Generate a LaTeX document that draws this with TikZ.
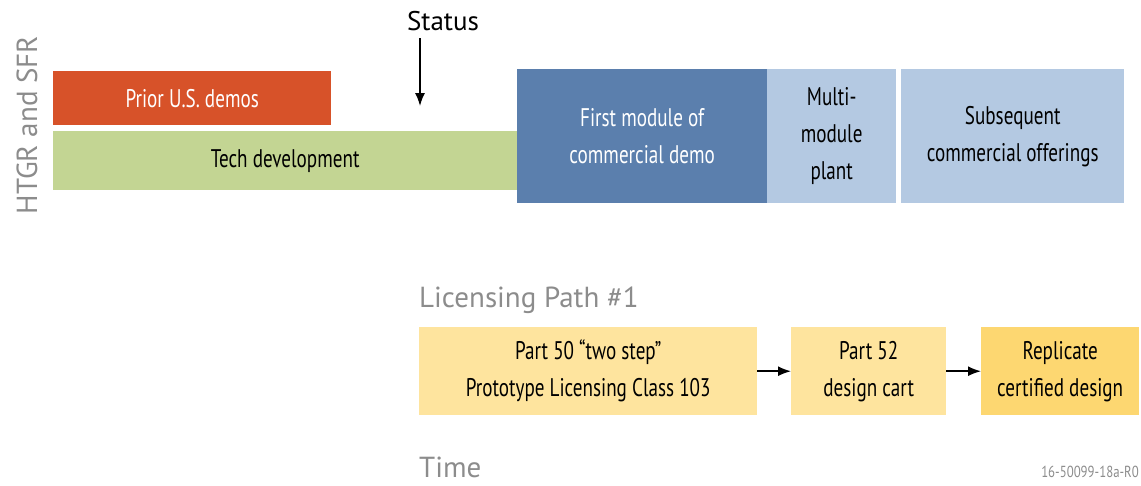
\documentclass[tikz,border=0pt]{standalone}
\usepackage{fontspec}
\setmainfont{PT Sans}[FakeStretch=0.75]
\newfontfamily\widefont{PT Sans}
\newfontfamily\codefont{PT Sans}[FakeStretch=0.8]
\usetikzlibrary{arrows.meta}
\definecolor{demored}{HTML}{D75229}
\definecolor{techgreen}{HTML}{C3D593}
\definecolor{darkblue}{HTML}{5B7FAD}
\definecolor{lightblue}{HTML}{B4C9E2}
\definecolor{paleyellow}{HTML}{FEE49E}
\definecolor{deepyellow}{HTML}{FDD771}
\definecolor{labelgray}{HTML}{8C8C8C}
\tikzset{
  bar/.style={anchor=north west, inner sep=0pt, align=center,
    font=\fontsize{25.5}{37}\selectfont},
  heading/.style={text=labelgray, inner sep=0pt, font=\widefont\fontsize{29}{32}\selectfont},
  flow/.style={-{Latex[length=13pt,width=10pt]}, line width=1.5pt},
}
\begin{document}
\begin{tikzpicture}[x=1pt,y=-1pt]
\useasboundingbox (0,0) rectangle (1141,485);

% axis label
\node[heading, rotate=90] (axis) at (27,125) {HTGR and SFR};

% technology timeline
\node[bar, fill=demored, text=white, minimum width=278, minimum height=54] (prior) at (53,71) {Prior U.S. demos};
\node[bar, fill=techgreen, minimum width=464, minimum height=59] (tech) at (53,131) {Tech development};
\node[bar, fill=darkblue, text=white, minimum width=250, minimum height=134] (first) at (517,69) {First module of\\commercial demo};
\node[bar, fill=lightblue, minimum width=129, minimum height=134] (multi) at (767,69) {Multi-\\module\\plant};
\node[bar, fill=lightblue, minimum width=223, minimum height=134] (subseq) at (901,69) {Subsequent\\commercial offerings};

% status marker
\node[inner sep=0pt, font=\widefont\fontsize{27}{30}\selectfont] (status) at (443,21) {Status};
\coordinate (statustop) at (420,38);
\coordinate (statustip) at (420,106);
\draw[flow] (statustop) -- (statustip);

% licensing path
\node[heading, anchor=west] (path) at (419,300) {Licensing Path \#1};
\node[bar, fill=paleyellow, minimum width=338, minimum height=88] (p50) at (419,327) {Part 50 ``two step''\\Prototype Licensing Class 103};
\node[bar, fill=paleyellow, minimum width=155, minimum height=88] (p52) at (791,327) {Part 52\\design cart};
\node[bar, fill=deepyellow, minimum width=158, minimum height=88] (rep) at (981,327) {Replicate\\certified design};
\draw[flow] (p50.east) -- (p52.west);
\draw[flow] (p52.east) -- (rep.west);

% time axis and drawing number
\node[heading, anchor=west] (time) at (419,467) {Time};
\node[anchor=east, inner sep=0pt, text=labelgray, font=\codefont\fontsize{16}{18}\selectfont] (code) at (1139,472) {16-50099-18a-R0};
\end{tikzpicture}
\end{document}
